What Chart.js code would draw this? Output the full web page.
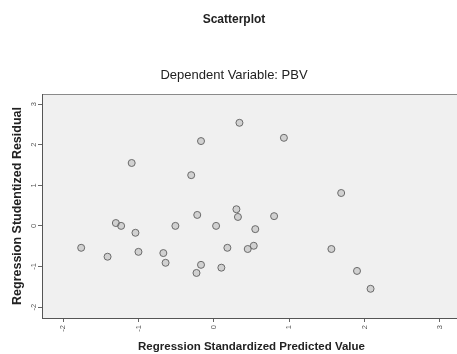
<!DOCTYPE html>
<html>
<head>
<meta charset="utf-8">
<script src="https://cdn.jsdelivr.net/npm/chart.js@4/dist/chart.umd.min.js"></script>
<style>
  html, body { margin: 0; padding: 0; background: #fff; overflow: hidden; }
</style>
</head>
<body>
<canvas id="scatter" width="466" height="354"></canvas>
<script>
// values
const predicted = [0.34, -0.17, 0.93, -1.09, -0.30, 1.69, 0.30, 0.32, -0.22, 0.80,
  -1.30, -1.23, -0.51, 0.03, 0.55, -1.04, -1.76, -1.41, -1.00, -0.67,
  -0.64, 0.18, 0.45, 0.53, -0.17, -0.23, 0.10, 1.56, 1.90, 2.08];
const residual = [2.54, 2.09, 2.17, 1.55, 1.25, 0.81, 0.41, 0.22, 0.27, 0.24,
  0.07, 0.00, 0.00, 0.00, -0.08, -0.17, -0.54, -0.76, -0.64, -0.67,
  -0.91, -0.54, -0.57, -0.49, -0.96, -1.16, -1.03, -0.57, -1.11, -1.55];
const xTicks = [-2, -1, 0, 1, 2, 3];
const yTicks = [-2, -1, 0, 1, 2, 3];

const font = 'Arial, "Liberation Sans", sans-serif';

// grey plot panel + thin frame
const panel = {
  id: 'panel',
  beforeDraw(chart) {
    const { ctx, chartArea: a } = chart;
    ctx.save();
    ctx.fillStyle = '#f0f0f0';
    ctx.fillRect(a.left, a.top, a.right - a.left, a.bottom - a.top);
    ctx.strokeStyle = '#8a8a8a';
    ctx.lineWidth = 1;
    ctx.strokeRect(a.left + 0.5, a.top + 0.5, a.right - a.left, a.bottom - a.top);
    ctx.restore();
  }
};

new Chart(document.getElementById('scatter'), {
  type: 'scatter',
  data: {
    datasets: [{
      data: predicted.map((x, i) => ({ x: x, y: residual[i] })),
      pointStyle: 'circle',
      pointRadius: 3.5,
      borderWidth: 1,
      borderColor: '#6a6a6a',
      backgroundColor: 'rgba(140,140,140,0.3)'
    }]
  },
  options: {
    responsive: false,
    animation: false,
    layout: { padding: { left: 5, right: 3, top: 0, bottom: 0 } },
    plugins: {
      legend: { display: false },
      tooltip: { enabled: false },
      title: {
        display: true,
        text: 'Scatterplot',
        color: '#222',
        font: { family: font, size: 12, weight: 'bold' },
        padding: { top: 12.8, bottom: 0 }
      },
      subtitle: {
        display: true,
        text: 'Dependent Variable: PBV',
        color: '#222',
        font: { family: font, size: 13 },
        padding: { top: 40, bottom: 11.2 }
      }
    },
    scales: {
      x: {
        type: 'linear',
        min: -2.28,
        max: 3.28,
        afterBuildTicks: s => { s.ticks = xTicks.map(v => ({ value: v })); },
        afterFit: s => { s.height = 36; },
        grid: { drawOnChartArea: false, tickLength: 4, color: '#666' },
        border: { color: '#555' },
        ticks: {
          minRotation: 90, maxRotation: 90, padding: 3,
          color: '#555',
          font: { family: font, size: 7.5 }
        },
        title: {
          display: true,
          text: 'Regression Standardized Predicted Value',
          color: '#222',
          font: { family: font, size: 11.5, weight: 'bold' },
          padding: { top: 0, bottom: 0 }
        }
      },
      y: {
        type: 'linear',
        min: -2.27,
        max: 3.25,
        afterBuildTicks: s => { s.ticks = yTicks.map(v => ({ value: v })); },
        afterFit: s => { s.width = 37; },
        grid: { drawOnChartArea: false, tickLength: 4, color: '#666' },
        border: { color: '#555' },
        ticks: {
          minRotation: 90, maxRotation: 90, padding: 1,
          crossAlign: 'center',
          color: '#555',
          font: { family: font, size: 7.5 }
        },
        title: {
          display: true,
          text: 'Regression Studentized Residual',
          color: '#222',
          font: { family: font, size: 12.5, weight: 'bold' },
          padding: { top: 5.3, bottom: 0 }
        }
      }
    }
  },
  plugins: [panel]
});
</script>
</body>
</html>
